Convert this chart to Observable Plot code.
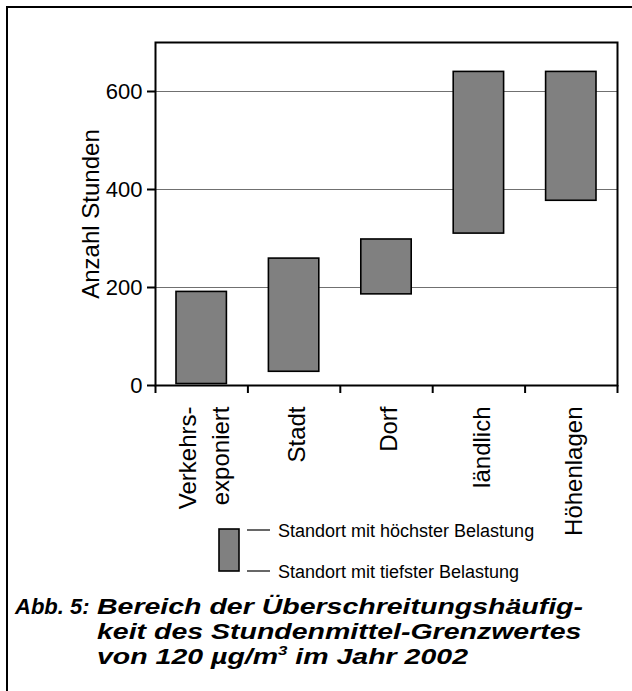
<!DOCTYPE html>
<html><head><meta charset="utf-8">
<script src="https://cdn.jsdelivr.net/npm/d3@7"></script>
<script src="https://cdn.jsdelivr.net/npm/@observablehq/plot@0.6"></script>
<style>
html,body{margin:0;padding:0;background:#fff;}
#wrap{position:relative;width:632px;height:691px;overflow:hidden;font-family:"Liberation Sans",Arial,sans-serif;color:#000;}
#border{position:absolute;left:6px;top:6px;width:700px;height:700px;border-left:2.5px solid #000;border-top:2.5px solid #000;}
#chart{position:absolute;left:0;top:0;}
#legend{position:absolute;left:0;top:0;}
.cap{position:absolute;top:594px;font-weight:bold;font-style:italic;font-size:22px;line-height:25px;white-space:nowrap;transform-origin:0 0;}
#abb{left:15px;}
#capbody{left:97px;}
.cap sup{font-size:13px;line-height:0;vertical-align:9px;}
</style></head>
<body><div id="wrap">
<div id="border"></div>
<div id="chart"></div>
<svg id="legend" width="632" height="691"></svg>
<div class="cap" id="abb">Abb. 5:</div>
<div class="cap" id="capbody"><div id="cap1">Bereich der Überschreitungshäufig-</div><div>keit des Stundenmittel-Grenzwertes</div><div>von 120 µg/m<sup>3</sup> im Jahr 2002</div></div>
</div>
<script>
const categories = ["Verkehrs-\nexponiert", "Stadt", "Dorf", "ländlich", "Höhenlagen"];
const lowest = [3, 28, 186, 310, 377];
const highest = [191, 259, 298, 640, 640];
const yTicks = [0, 200, 400, 600];
const yTitle = "Anzahl Stunden";
const legendLabels = ["Standort mit höchster Belastung", "Standort mit tiefster Belastung"];

const data = categories.map((c, i) => ({i, label: c, lo: lowest[i], hi: highest[i]}));
const boundaries = d3.range(categories.length + 1);

const chart = Plot.plot({
  width: 632, height: 540,
  marginLeft: 155, marginRight: 15, marginTop: 42, marginBottom: 155,
  style: {fontFamily: '"Liberation Sans", Arial, sans-serif', fontSize: "22px", color: "#000", background: "transparent", overflow: "visible"},
  x: {domain: [0, categories.length], axis: null},
  y: {domain: [0, 700], axis: null},
  marks: [
    Plot.ruleY(yTicks.filter(d => d > 0), {stroke: "#707070", strokeWidth: 1.2}),
    Plot.rectY(data, {x1: "i", x2: d => d.i + 1, y1: "lo", y2: "hi", insetLeft: 21, insetRight: 21, fill: "#808080", stroke: "#000", strokeWidth: 1.6}),
    Plot.frame({stroke: "#000", strokeWidth: 2}),
    Plot.axisY({ticks: yTicks, tickSize: 8, tickPadding: 5, fontSize: 22, label: null, strokeWidth: 2, tickFormat: d => String(d)}),
    Plot.axisX({ticks: boundaries, tickSize: 8, tickFormat: () => "", label: null, strokeWidth: 2}),
    Plot.text([yTitle], {frameAnchor: "left", dx: -64, rotate: -90, textAnchor: "middle", fontSize: 24}),
    Plot.text(data, {x: d => d.i + 0.5, frameAnchor: "bottom", dy: 21, text: "label", rotate: -90, textAnchor: "end", lineAnchor: "middle", lineHeight: 1.4, fontSize: 24})
  ]
});
document.getElementById("chart").appendChild(chart);

// legend
const lg = d3.select("#legend");
lg.append("rect").attr("x", 219).attr("y", 529).attr("width", 20).attr("height", 42)
  .attr("fill", "#808080").attr("stroke", "#000").attr("stroke-width", 1.6);
[530, 571].forEach((y, k) => {
  lg.append("line").attr("x1", 247).attr("x2", 270).attr("y1", y).attr("y2", y).attr("stroke", "#000").attr("stroke-width", 1.2);
  lg.append("text").attr("x", 278).attr("y", y + 7).attr("font-size", 18)
    .attr("font-family", '"Liberation Sans", Arial, sans-serif').text(legendLabels[k]);
});

// caption body horizontal fit
const body = document.getElementById("capbody");
const w = document.getElementById("cap1").getBoundingClientRect().width;
body.style.transform = `scaleX(${(583 - 97) / w})`;
</script>
</body></html>
